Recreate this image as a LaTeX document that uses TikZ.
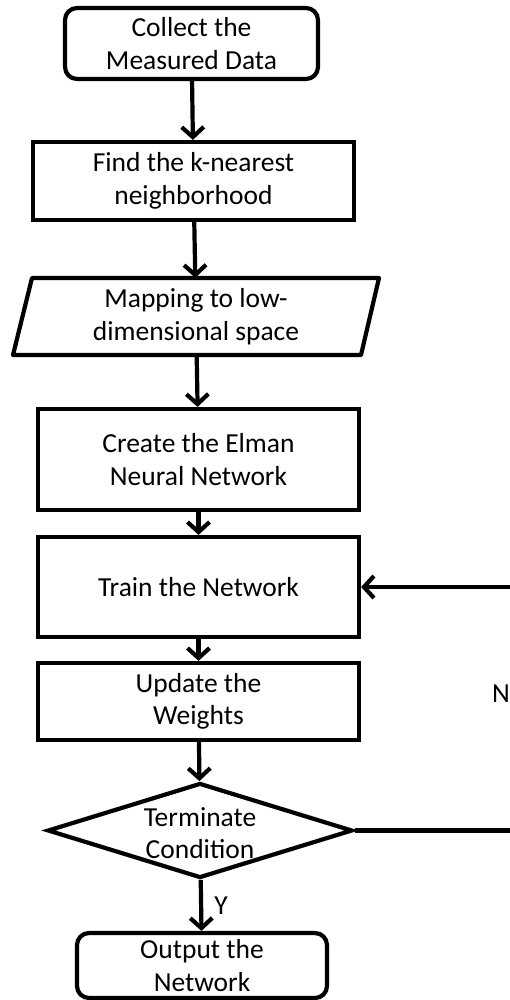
\documentclass[tikz,border=0pt]{standalone}
\usepackage{fontspec}
\setmainfont{Carlito}
\usetikzlibrary{arrows.meta,shapes.geometric}
\begin{document}
\begin{tikzpicture}[x=1pt,y=-1pt,
  every node/.style={font=\fontsize{27.5}{32.5}\selectfont, align=center, inner sep=0pt},
  box/.style={draw, line width=4.2pt, rectangle, minimum width=#1},
  rbox/.style={draw, line width=4.2pt, rectangle, rounded corners=12pt, minimum width=#1},
  flow/.style={line width=4.2pt, -{Straight Barb[length=10pt,width=22pt,line width=4.2pt]}},
  plain/.style={line width=4.2pt}
]
\useasboundingbox (0,0) rectangle (509,1000);
\node[rbox=253pt, minimum height=71pt] (b1) at (191.5,43.5) {Collect the\\Measured Data};
\node[box=321pt, minimum height=78pt] (b2) at (193.5,181) {Find the k-nearest\\neighborhood};
\node[minimum width=348pt, minimum height=77pt] (p) at (196,316.5) {Mapping to low-\\dimensional space};
\draw[line width=4.2pt, line join=round] (32,278) -- (379,278) -- (361,355) -- (13,355) -- cycle;
\node[box=321pt, minimum height=101pt] (b4) at (198.5,459.5) {Create the Elman\\Neural Network};
\node[box=321pt, minimum height=100pt] (b5) at (198.5,587) {Train the Network};
\node[box=321pt, minimum height=77pt] (b6) at (198.5,701.5) {Update the\\Weights};
\node[draw, line width=4.2pt, diamond, minimum width=305pt, minimum height=95pt] (d) at (200,830.5) {};
\node (dt) at (200,833) {Terminate\\Condition};
\node[rbox=250pt, minimum height=65pt] (b7) at (202,965.5) {Output the\\Network};
\coordinate (rin) at (512,587);
\coordinate (rout) at (512,830.5);
\node (n) at (501,694) {N};
\node (y) at (221,906) {Y};
\draw[flow] (b1) -- (b2);
\draw[flow] (b2) -- (p);
\draw[flow] (p) -- (b4);
\draw[flow] (b4) -- (b5);
\draw[flow] (b5) -- (b6);
\draw[flow] (b6) -- (d);
\draw[flow] (d) -- (b7);
\draw[plain] (d.east) -- (rout);
\draw[flow] (rin) -- (b5.east);
\end{tikzpicture}
\end{document}
